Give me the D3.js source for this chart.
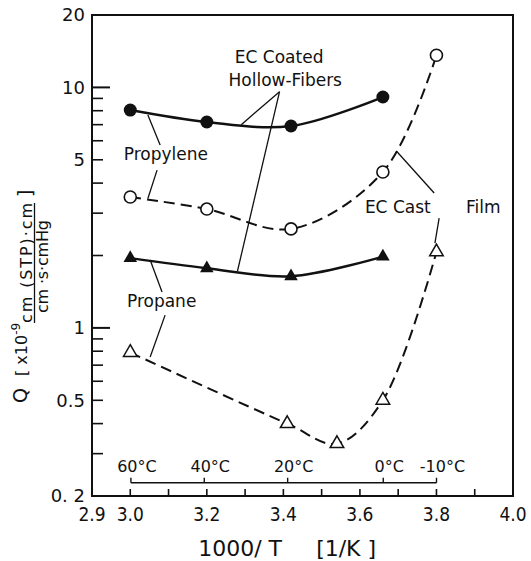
<!DOCTYPE html>
<meta charset="utf-8">
<script src="https://d3js.org/d3.v7.min.js"></script>
<style>
  body { margin: 0; background: #fff; }
  text { font-family: "DejaVu Sans", sans-serif; fill: #111; }
</style>
<div id="chart"></div>
<script>

// values
var invT = [3.00, 3.20, 3.42, 3.66];                 // 60, 40, 20, 0 degC
var propyleneHF = [8.05, 7.18, 6.91, 9.12];          // filled circles
var propaneHF = [1.95, 1.77, 1.64, 1.98];            // filled triangles
var castX1 = [3.00, 3.20, 3.42, 3.66, 3.80];
var propyleneCast = [3.50, 3.12, 2.58, 4.45, 13.6];  // open circles
var castX2 = [3.00, 3.41, 3.54, 3.66, 3.80];
var propaneCast = [0.79, 0.40, 0.33, 0.50, 2.07];    // open triangles

var xTickLabels = [2.9, 3.0, 3.2, 3.4, 3.6, 3.8, 4.0];
var xMinor = [3.0, 3.1, 3.2, 3.3, 3.4, 3.5, 3.6, 3.7, 3.8, 3.9];
var yTickLabels = [0.2, 0.5, 1, 5, 10, 20];
var yDecades = [1, 10];
var yMinor = [0.3, 0.4, 0.5, 0.6, 0.7, 0.8, 0.9, 2, 3, 4, 5, 6, 7, 8, 9];
var tempC = [60, 40, 20, 0, -10];

// set the dimensions and margins of the graph
var margin = {top: 15, right: 18, bottom: 65, left: 92},
    width = 531 - margin.left - margin.right,
    height = 561 - margin.top - margin.bottom;

var svg = d3.select("#chart")
  .append("svg")
    .attr("width", 531)
    .attr("height", 561);
var g = svg.append("g")
    .attr("transform", "translate(" + margin.left + "," + margin.top + ")");

var x = d3.scaleLinear().domain([2.9, 4.0]).range([0, width]);
var y = d3.scaleLog().domain([0.2, 20]).range([height, 0]);

// frame
g.append("rect")
  .attr("width", width).attr("height", height)
  .attr("fill", "none").attr("stroke", "#111").attr("stroke-width", 2);

// y ticks (inward)
g.selectAll(".ymin").data(yMinor).enter().append("line")
  .attr("x1", 0).attr("x2", 11)
  .attr("y1", function(d) { return y(d); }).attr("y2", function(d) { return y(d); })
  .attr("stroke", "#111").attr("stroke-width", 1.6);
g.selectAll(".ymaj").data(yDecades).enter().append("line")
  .attr("x1", 0).attr("x2", 18)
  .attr("y1", function(d) { return y(d); }).attr("y2", function(d) { return y(d); })
  .attr("stroke", "#111").attr("stroke-width", 2);
g.selectAll(".ylab").data(yTickLabels).enter().append("text")
  .attr("x", -7).attr("y", function(d) { return y(d); })
  .attr("dy", "0.36em").attr("text-anchor", "end")
  .style("font-size", "18px")
  .text(function(d) { return d == 0.2 ? "0. 2" : d; });

// x ticks (inward)
g.selectAll(".xmin").data(xMinor).enter().append("line")
  .attr("x1", function(d) { return x(d); }).attr("x2", function(d) { return x(d); })
  .attr("y1", height).attr("y2", height - 7)
  .attr("stroke", "#111").attr("stroke-width", 1.6);
g.selectAll(".xlab").data(xTickLabels).enter().append("text")
  .attr("x", function(d) { return x(d); }).attr("y", height + 25)
  .attr("text-anchor", "middle")
  .style("font-size", "19px").style("font-family", "'DejaVu Sans Condensed', 'DejaVu Sans'")
  .text(function(d) { return d.toFixed(1); });

// x title
g.append("text").attr("x", x(3.287)).attr("y", height + 60)
  .attr("text-anchor", "middle").style("font-size", "22px").text("1000/ T");
g.append("text").attr("x", x(3.564)).attr("y", height + 60)
  .attr("text-anchor", "middle").style("font-size", "22px").text("[1/K ]");

// temperature scale
var tScaleY = y(0.227);
var tx = function(t) { return x(1000 / (t + 273.15)); };
g.append("line")
  .attr("x1", tx(tempC[0])).attr("x2", tx(tempC[tempC.length - 1]))
  .attr("y1", tScaleY).attr("y2", tScaleY)
  .attr("stroke", "#111").attr("stroke-width", 1.6);
g.selectAll(".ttick").data(tempC).enter().append("line")
  .attr("x1", tx).attr("x2", tx)
  .attr("y1", tScaleY).attr("y2", tScaleY - 5)
  .attr("stroke", "#111").attr("stroke-width", 1.4);
g.selectAll(".tlab").data(tempC).enter().append("text")
  .attr("x", function(d) { return tx(d) + 6; }).attr("y", tScaleY - 11)
  .attr("text-anchor", "middle").style("font-size", "16px")
  .text(function(d) { return d + "\u00B0C"; });

// curves
var line = d3.line()
  .x(function(d) { return x(d[0]); })
  .y(function(d) { return y(d[1]); })
  .curve(d3.curveCatmullRom.alpha(0.5));

function pts(xs, ys) { return xs.map(function(v, i) { return [v, ys[i]]; }); }

g.append("path").datum(pts(invT, propyleneHF)).attr("d", line)
  .attr("fill", "none").attr("stroke", "#111").attr("stroke-width", 2.4);
g.append("path").datum(pts(invT, propaneHF)).attr("d", line)
  .attr("fill", "none").attr("stroke", "#111").attr("stroke-width", 2.4);
g.append("path").datum(pts(castX1, propyleneCast)).attr("d", line)
  .attr("fill", "none").attr("stroke", "#111").attr("stroke-width", 2)
  .attr("stroke-dasharray", "11,6");
g.append("path").datum(pts(castX2, propaneCast)).attr("d", line)
  .attr("fill", "none").attr("stroke", "#111").attr("stroke-width", 2)
  .attr("stroke-dasharray", "11,6");

// leader lines (data coordinates)
var leaders = [
  [[3.39, 9.6], [3.29, 7.0]],
  [[3.39, 9.6], [3.28, 1.72]],
  [[3.046, 7.68], [3.078, 5.76]],
  [[3.070, 4.53], [3.046, 3.45]],
  [[3.052, 1.915], [3.083, 1.41]],
  [[3.091, 1.13], [3.052, 0.757]],
  [[3.697, 5.4], [3.794, 3.64]],
  [[3.807, 2.86], [3.796, 2.25]]
];
g.selectAll(".leader").data(leaders).enter().append("line")
  .attr("x1", function(d) { return x(d[0][0]); }).attr("y1", function(d) { return y(d[0][1]); })
  .attr("x2", function(d) { return x(d[1][0]); }).attr("y2", function(d) { return y(d[1][1]); })
  .attr("stroke", "#111").attr("stroke-width", 1.3);

// markers
var sym = d3.symbol().type(d3.symbolTriangle).size(80);
g.selectAll(".fc").data(pts(invT, propyleneHF)).enter().append("circle")
  .attr("cx", function(d) { return x(d[0]); }).attr("cy", function(d) { return y(d[1]); })
  .attr("r", 6.5).attr("fill", "#111");
g.selectAll(".oc").data(pts(castX1, propyleneCast)).enter().append("circle")
  .attr("cx", function(d) { return x(d[0]); }).attr("cy", function(d) { return y(d[1]); })
  .attr("r", 6).attr("fill", "#fff").attr("stroke", "#111").attr("stroke-width", 1.6);
g.selectAll(".ft").data(pts(invT, propaneHF)).enter().append("path")
  .attr("d", sym)
  .attr("transform", function(d) { return "translate(" + x(d[0]) + "," + y(d[1]) + ")"; })
  .attr("fill", "#111");
g.selectAll(".ot").data(pts(castX2, propaneCast)).enter().append("path")
  .attr("d", sym)
  .attr("transform", function(d) { return "translate(" + x(d[0]) + "," + y(d[1]) + ")"; })
  .attr("fill", "#fff").attr("stroke", "#111").attr("stroke-width", 1.5);

// annotation labels
var labels = [
  {t: "EC Coated", x: 3.389, y: 12.63, a: "middle"},
  {t: "Hollow-Fibers", x: 3.405, y: 10.14, a: "middle"},
  {t: "Propylene", x: 3.093, y: 5.0, a: "middle"},
  {t: "Propane", x: 3.082, y: 1.22, a: "middle"},
  {t: "EC Cast", x: 3.613, y: 3.0, a: "start"},
  {t: "Film", x: 3.877, y: 3.0, a: "start"}
];
g.selectAll(".ann").data(labels).enter().append("text")
  .attr("x", function(d) { return x(d.x); }).attr("y", function(d) { return y(d.y); })
  .attr("text-anchor", function(d) { return d.a; })
  .style("font-size", "17px")
  .text(function(d) { return d.t; });

// y axis title (rotated)
var yt = svg.append("g").attr("transform", "translate(27,403) rotate(-90)");
yt.append("text").attr("x", 0).attr("y", 0).style("font-size", "19px").text("Q");
var yt2 = yt.append("text").attr("x", 27).attr("y", 0).style("font-size", "16px");
yt2.append("tspan").text("[ x10");
yt2.append("tspan").attr("dy", -7).style("font-size", "12px").text("-9");
yt.append("text").attr("x", 80).attr("y", 5).attr("textLength", 120)
  .style("font-size", "16px").text("cm (STP)\u00B7cm");
yt.append("line").attr("x1", 80).attr("x2", 200).attr("y1", 7.5).attr("y2", 7.5)
  .attr("stroke", "#111").attr("stroke-width", 1.3);
yt.append("text").attr("x", 90).attr("y", 21).attr("textLength", 93)
  .style("font-size", "16px").text("cm \u00B7s\u00B7cmHg");
yt.append("text").attr("x", 206).attr("y", 5).style("font-size", "19px").text("]");

</script>
